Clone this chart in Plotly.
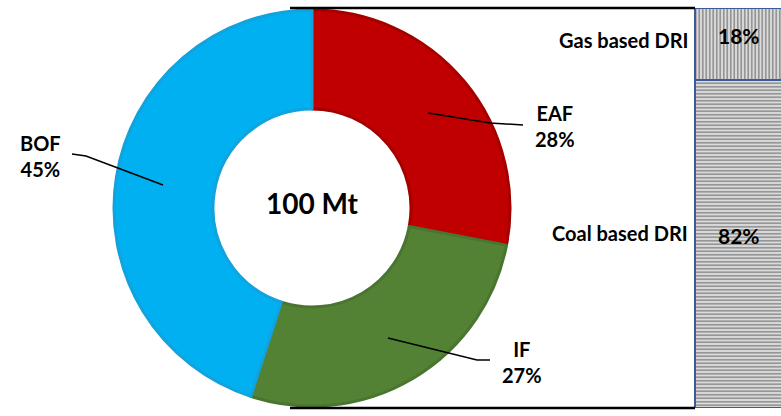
import plotly.graph_objects as go

# Steel production routes (share of 100 Mt)
routes = ["EAF", "IF", "BOF"]
route_share = [28, 27, 45]
route_colors = ["#C00000", "#548235", "#00B0F0"]
route_edges = ["#A50000", "#4A7530", "#12A2DC"]

# DRI feedstock split (drawn bottom-up: coal, then gas on top)
dri_types = ["Coal based DRI", "Gas based DRI"]
dri_share = [82, 18]
dri_patterns = ["-", "|"]

total_label = "100 Mt"

W, H = 781, 416
FONT = "Lato"


def px(x):
    return x / W


def py(y):
    return 1 - y / H


fig = go.Figure()

fig.add_trace(go.Pie(
    labels=routes,
    values=route_share,
    hole=0.5,
    sort=False,
    direction="clockwise",
    rotation=0,
    textinfo="none",
    hoverinfo="label+percent",
    marker=dict(colors=route_colors, line=dict(color=route_edges, width=3)),
    domain=dict(x=[px(114), px(510)], y=[py(406), py(10)]),
    showlegend=False,
))

# stacked DRI bar, partly running off the right edge
base = 0
for name, val, pat in zip(dri_types, dri_share, dri_patterns):
    fig.add_trace(go.Bar(
        x=[0], y=[val], name=name, width=1,
        marker=dict(
            color="#C8C8C8",
            line=dict(color="#3A5A9E", width=2),
            pattern=dict(shape=pat, fgcolor="#3F3F3F", bgcolor="#DCDCDC",
                         size=3.5, solidity=0.45),
        ),
        hoverinfo="name+y",
        showlegend=False, xaxis="x", yaxis="y",
    ))
    # value label on the segment, sitting slightly above its middle
    fig.add_annotation(x=-0.05, y=base + val / 2, xref="x", yref="y",
                       text=f"<b>{val}%</b>", showarrow=False, yshift=9,
                       font=dict(family=FONT, size=21, color="black"))
    base += val

fig.update_layout(
    width=W, height=H,
    margin=dict(l=0, r=0, t=0, b=0),
    paper_bgcolor="white", plot_bgcolor="rgba(0,0,0,0)",
    barmode="stack",
    xaxis=dict(domain=[px(694), 1], range=[-0.51, 0.38], visible=False, fixedrange=True),
    yaxis=dict(domain=[py(408), py(8)], range=[0, 100], visible=False, fixedrange=True),
)

# connector lines from the donut to the bar
for y in (8, 408):
    fig.add_shape(type="line", xref="paper", yref="paper",
                  x0=px(290), x1=px(695), y0=py(y), y1=py(y),
                  line=dict(color="black", width=2.5))


def leader(points):
    d = "M " + " L ".join(f"{px(x)},{py(y)}" for x, y in points)
    fig.add_shape(type="path", xref="paper", yref="paper", path=d,
                  line=dict(color="black", width=1.5))


leader([(72, 154), (86, 156), (163, 185)])
leader([(428, 113), (490, 123), (523, 125)])
leader([(388, 338), (477, 360), (490, 360)])


def label(x, y, text, anchor="center", size=20):
    fig.add_annotation(x=px(x), y=py(y), xref="paper", yref="paper",
                       text=text, showarrow=False, xanchor=anchor,
                       yanchor="middle", align="center",
                       font=dict(family=FONT, size=size, color="black"))


label_pos = {"EAF": (555, 126), "IF": (522, 362), "BOF": (40, 156)}
for name, val in zip(routes, route_share):
    x, y = label_pos[name]
    label(x, y, f"<b>{name}<br>{val}%</b>")

label(312, 203, f"<b>{total_label}</b>", size=28)

dri_label_y = {"Gas based DRI": 40, "Coal based DRI": 233}
for name in dri_types:
    label(690, dri_label_y[name], f"<b>{name}</b>", anchor="right")

fig.write_html("out.html")
